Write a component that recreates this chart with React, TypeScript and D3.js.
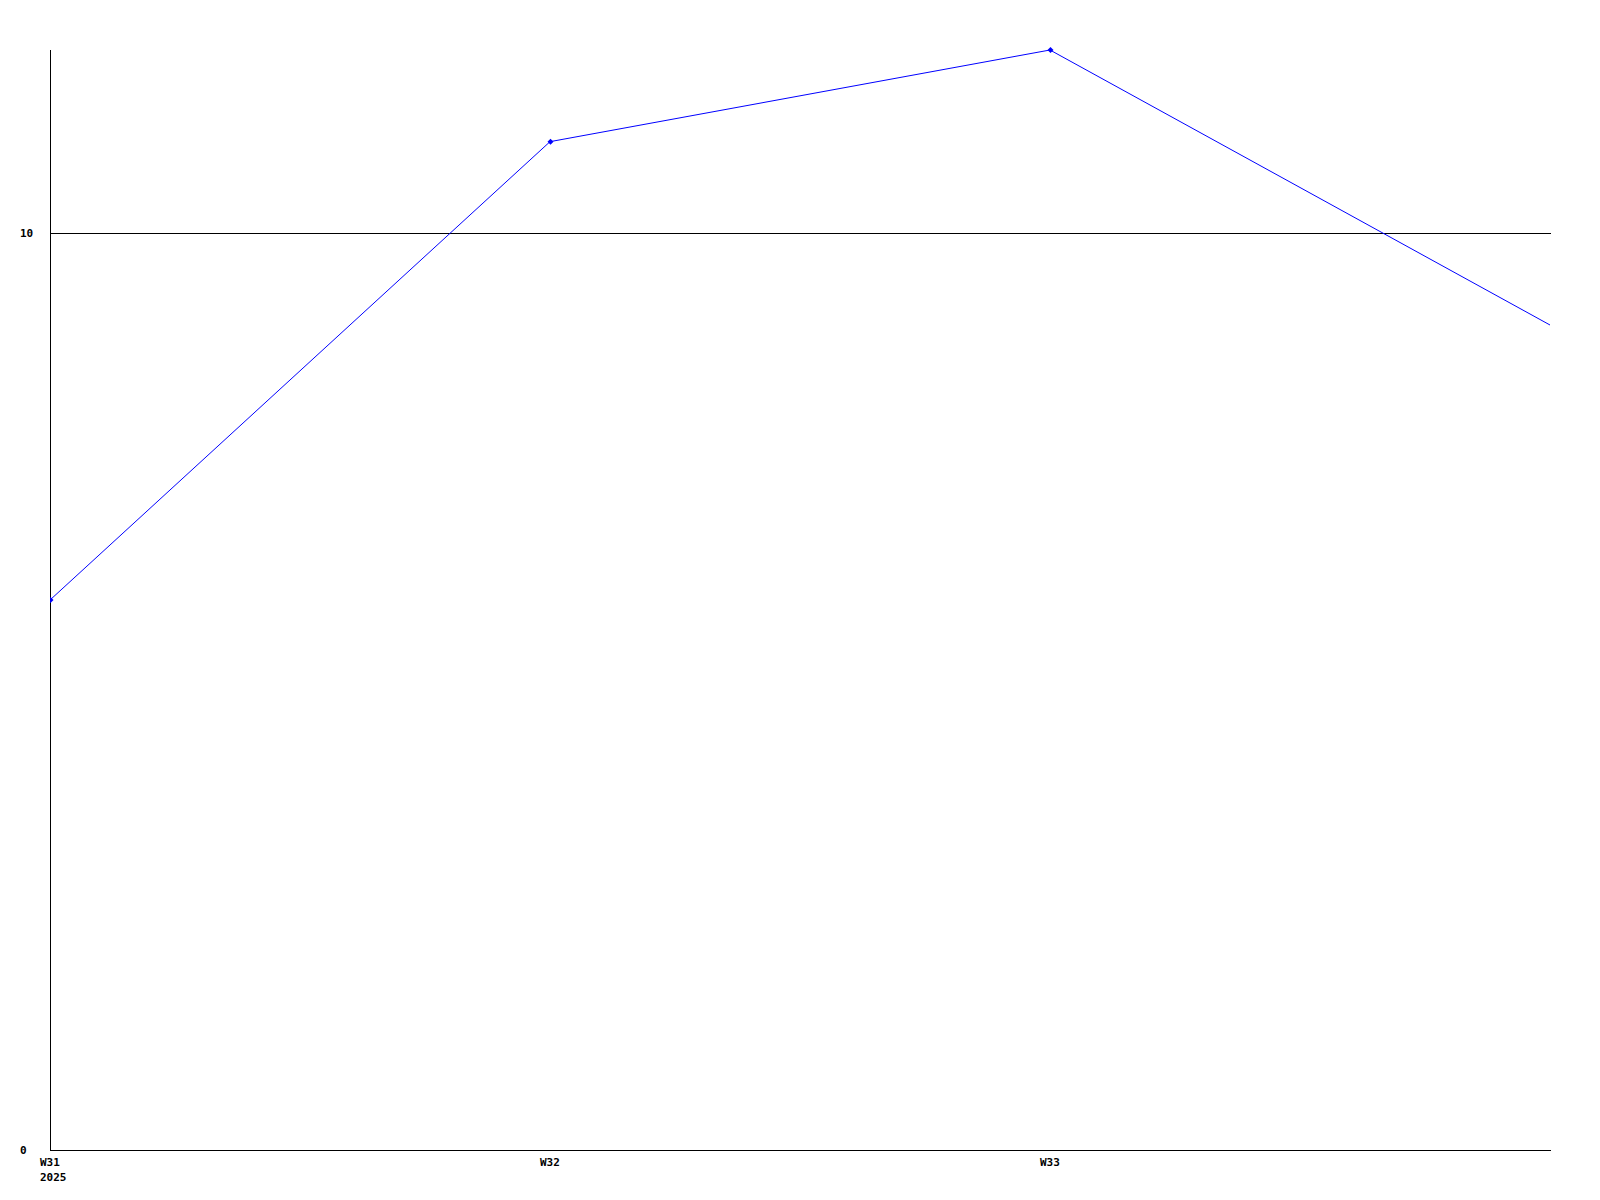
import React from "react";
import * as d3 from "d3";

const weeks = ["W31", "W32", "W33", "W34"];
const values = [6, 11, 12, 9];
const yTicks = [0, 10];
const yearLabel = "2025";

const W = 1600;
const H = 1200;
const left = 50;
const right = 1550;
const top = 50;
const bottom = 1150;

export default function App() {
  const x = d3.scalePoint<string>().domain(weeks).range([left, right]);
  const y = d3.scaleLinear().domain([0, 12]).range([bottom, top]);
  const line = d3
    .line<number>()
    .x((_, i) => x(weeks[i]) as number)
    .y((d) => y(d));
  const font = "'DejaVu Sans Mono', monospace";
  return (
    <svg
      width={W}
      height={H}
      style={{ position: "absolute", left: 0, top: 0, background: "#fff" }}
    >
      <defs>
        <clipPath id="plot">
          <rect x={left} y={top - 5} width={right - left + 1} height={bottom - top + 10} />
        </clipPath>
      </defs>
      {yTicks
        .filter((t) => t !== 0)
        .map((t) => (
          <line key={t} x1={left} x2={right + 1} y1={Math.round(y(t)) + 0.5} y2={Math.round(y(t)) + 0.5} stroke="#000" strokeWidth={1} shapeRendering="crispEdges" />
        ))}
      <line x1={left + 0.5} x2={left + 0.5} y1={top} y2={bottom + 0.5} stroke="#000" strokeWidth={1} shapeRendering="crispEdges" />
      <line x1={left} x2={right + 1} y1={bottom + 0.5} y2={bottom + 0.5} stroke="#000" strokeWidth={1} shapeRendering="crispEdges" />
      {yTicks.map((t) => (
        <text key={t} x={20} y={Math.round(y(t)) + 4} fontFamily={font} fontWeight="bold" fontSize={11} fill="#000">
          {t}
        </text>
      ))}
      {weeks.slice(0, 3).map((w, i) => (
        <g key={w}>
          <text x={(x(w) as number) - 10} y={bottom + 16} fontFamily={font} fontWeight="bold" fontSize={11} fill="#000">
            {w}
          </text>
          {i === 0 && (
            <text x={(x(w) as number) - 10} y={bottom + 31} fontFamily={font} fontWeight="bold" fontSize={11} fill="#000">
              {yearLabel}
            </text>
          )}
        </g>
      ))}
      <g clipPath="url(#plot)">
        <path d={line(values) ?? ""} fill="none" stroke="#0000ff" strokeWidth={1} />
        {values.slice(0, 3).map((v, i) => (
          <path
            key={i}
            d={`M${(x(weeks[i]) as number) + 0.5},${y(v) - 3}l3,3l-3,3l-3,-3z`}
            fill="#0000ff"
          />
        ))}
      </g>
    </svg>
  );
}
